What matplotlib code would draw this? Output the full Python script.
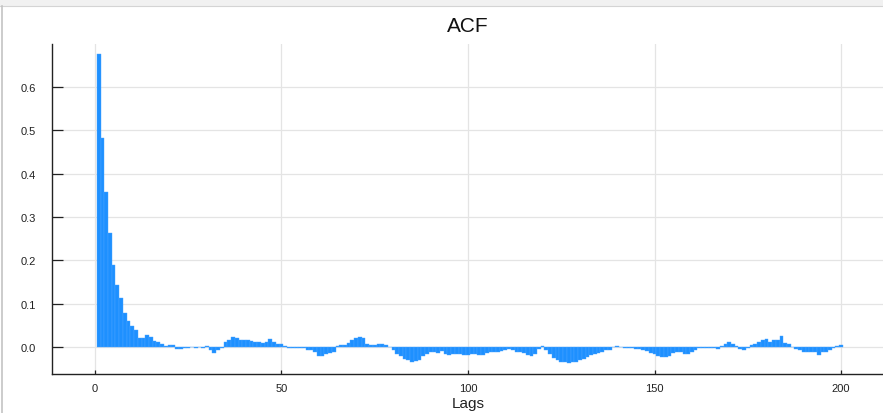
import numpy as np
import matplotlib
matplotlib.use("Agg")
import matplotlib.pyplot as plt
from matplotlib.patches import Rectangle
from matplotlib.lines import Line2D
from matplotlib import font_manager

plt.rcParams['font.family'] = ['Liberation Sans', 'DejaVu Sans']

# Autocorrelation values for lags 1..200
lags = list(range(1, 201))
acf = [
    0.677, 0.481, 0.358, 0.262, 0.189, 0.144, 0.112, 0.078, 0.060, 0.049,
    0.039, 0.021, 0.021, 0.028, 0.023, 0.014, 0.011, 0.008, 0.003, 0.004,
    0.005, -0.005, -0.004, -0.002, -0.002, -0.001, -0.002, -0.001, -0.003, 0.002,
    -0.008, -0.015, -0.008, -0.002, 0.011, 0.016, 0.024, 0.020, 0.017, 0.016,
    0.015, 0.014, 0.012, 0.011, 0.010, 0.011, 0.018, 0.011, 0.007, 0.008,
    0.003, -0.002, -0.002, -0.002, -0.002, -0.003, -0.006, -0.008, -0.011, -0.021,
    -0.021, -0.016, -0.014, -0.012, 0.003, 0.005, 0.005, 0.009, 0.017, 0.021,
    0.022, 0.020, 0.008, 0.005, 0.005, 0.008, 0.007, 0.005, -0.001, -0.008,
    -0.016, -0.021, -0.028, -0.031, -0.034, -0.033, -0.030, -0.020, -0.016, -0.012,
    -0.011, -0.014, -0.010, -0.016, -0.018, -0.017, -0.016, -0.016, -0.018, -0.018,
    -0.017, -0.016, -0.018, -0.018, -0.015, -0.012, -0.011, -0.012, -0.009, -0.007,
    -0.005, -0.007, -0.011, -0.012, -0.015, -0.018, -0.020, -0.016, -0.005, 0.002,
    -0.008, -0.016, -0.026, -0.031, -0.034, -0.035, -0.037, -0.035, -0.034, -0.030,
    -0.028, -0.022, -0.018, -0.016, -0.015, -0.011, -0.008, -0.007, -0.001, 0.002,
    -0.001, -0.002, -0.002, -0.003, -0.005, -0.005, -0.007, -0.009, -0.014, -0.016,
    -0.021, -0.024, -0.023, -0.020, -0.014, -0.011, -0.012, -0.016, -0.016, -0.012,
    -0.006, -0.003, -0.002, -0.002, -0.003, -0.003, -0.005, 0.003, 0.008, 0.012,
    0.008, 0.003, -0.005, -0.007, -0.003, 0.005, 0.008, 0.011, 0.015, 0.018,
    0.012, 0.016, 0.017, 0.026, 0.009, 0.006, -0.001, -0.005, -0.007, -0.012,
    -0.012, -0.011, -0.012, -0.018, -0.012, -0.011, -0.006, -0.003, 0.002, 0.005,
]

x_ticks = [0, 50, 100, 150, 200]
y_ticks = [0.0, 0.1, 0.2, 0.3, 0.4, 0.5, 0.6]
y_tick_labels = ["0.0", "0.1", "0.2", "0.3", "0.4", "0.5", "0.6"]

# narrow face for tick numbers when available
installed = {f.name for f in font_manager.fontManager.ttflist}
tick_family = ['Liberation Sans Narrow'] if 'Liberation Sans Narrow' in installed else ['Liberation Sans']

W, H = 883, 414
fig = plt.figure(figsize=(W / 100, H / 100), dpi=100)
fig.patch.set_facecolor("white")

# window chrome: light header strip and left border
fig.patches.append(Rectangle((0, 1 - 7 / H), 1, 7 / H, transform=fig.transFigure,
                             facecolor="#f1f1f1", edgecolor="none", zorder=0))
fig.lines.append(Line2D([0, 1], [1 - 7 / H, 1 - 7 / H], transform=fig.transFigure,
                        color="#d4d4d4", lw=0.8))
fig.lines.append(Line2D([2 / W, 2 / W], [0, 1 - 7 / H], transform=fig.transFigure,
                        color="#c4c4c4", lw=1.2))

left, right, top, bottom = 52, 884, 45, 375
ax = fig.add_axes([left / W, 1 - bottom / H, (right - left) / W, (bottom - top) / H])

ax.bar(lags, acf, width=1.0, color="#1E90FF", edgecolor="#4aa5ff", linewidth=0.3, zorder=2)

ax.set_xlim(-11.5, 211.5)
ax.set_ylim(-0.0623, 0.699)

ax.set_xticks(x_ticks)
ax.set_xticklabels([str(t) for t in x_ticks])
ax.set_yticks(y_ticks)
ax.set_yticklabels(y_tick_labels)
for lbl in ax.get_xticklabels() + ax.get_yticklabels():
    lbl.set_family(tick_family)

ax.grid(True, color="#e4e4e4", linewidth=0.9, zorder=0)
ax.set_axisbelow(True)

for s in ["top", "right"]:
    ax.spines[s].set_visible(False)
for s in ["left", "bottom"]:
    ax.spines[s].set_color("#222222")
    ax.spines[s].set_linewidth(1.0)

ax.tick_params(axis="y", direction="in", length=8, width=0.9, color="#222222",
               labelsize=8, pad=11.5, labelcolor="#222222")
ax.tick_params(axis="x", direction="in", length=3, width=0.9, color="#222222",
               labelsize=8, pad=6.5, labelcolor="#222222")

ax.set_xlabel("Lags", fontsize=11, labelpad=2, color="#222222")
ax.set_title("ACF", fontsize=15, pad=9.5, color="#111111")

fig.savefig("out.png", dpi=100)
